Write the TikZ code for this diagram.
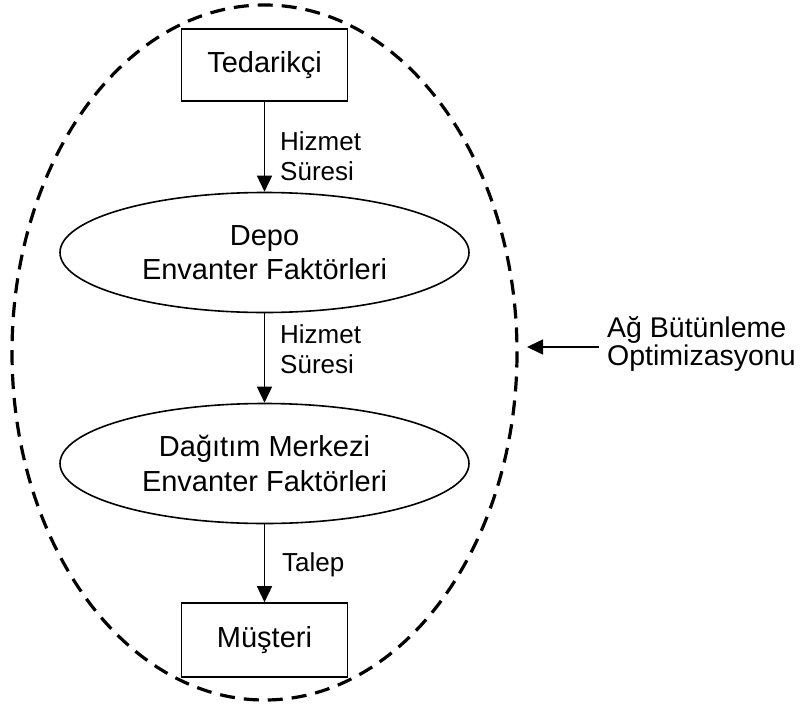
\documentclass[tikz,border=0pt]{standalone}
\usepackage{fontspec}
\setmainfont{Liberation Sans}
\usetikzlibrary{shapes.geometric,arrows.meta}
\begin{document}
\begin{tikzpicture}[x=1pt,y=-1pt,
  stage/.style={draw, line width=1.6pt, inner sep=0pt, align=center,
    font=\fontsize{29}{34.5}\selectfont},
  boxnode/.style={stage, rectangle, minimum width=166pt, minimum height=72pt},
  ovalnode/.style={stage, ellipse, minimum width=409pt, minimum height=120pt},
  flow/.style={line width=1.5pt, -{Triangle[length=16pt,width=15pt]}},
  flowlabel/.style={anchor=north west, inner sep=0pt, align=left,
    font=\fontsize{26}{29.5}\selectfont},
  boundary/.style={line width=3.2pt, dash pattern=on 15pt off 9pt}
]
\useasboundingbox (0,0) rectangle (803,707);

% network boundary
\draw[boundary] (264.5,352.5) ellipse [x radius=252.5, y radius=347.5];

% supply chain stages
\node[boxnode] (sup) at (264.5,65) {Tedarikçi};
\node[ovalnode] (depo) at (264.5,252.5) {Depo\\Envanter Faktörleri};
\node[ovalnode] (dc) at (264.5,463.5) {Dağıtım Merkezi\\Envanter Faktörleri};
\node[boxnode, minimum height=74pt] (cus) at (264.5,640) {Müşteri};

% flows between stages
\draw[flow] (sup) -- (depo);
\draw[flow] (depo) -- (dc);
\draw[flow] (dc) -- (cus);

\node[flowlabel] (l1) at (280,131.5) {Hizmet\\Süresi};
\node[flowlabel] (l2) at (280,324.5) {Hizmet\\Süresi};
\node[flowlabel] (l3) at (282,552) {Talep};

% network integration optimisation
\node[anchor=north west, inner sep=0pt, align=left,
      font=\fontsize{28.5}{28}\selectfont] (opt) at (607,316)
      {Ağ Bütünleme\\Optimizasyonu};
\coordinate (nettip) at (527,347);
\draw[flow] ([xshift=-8pt]opt.west |- nettip) -- (nettip);
\end{tikzpicture}
\end{document}
